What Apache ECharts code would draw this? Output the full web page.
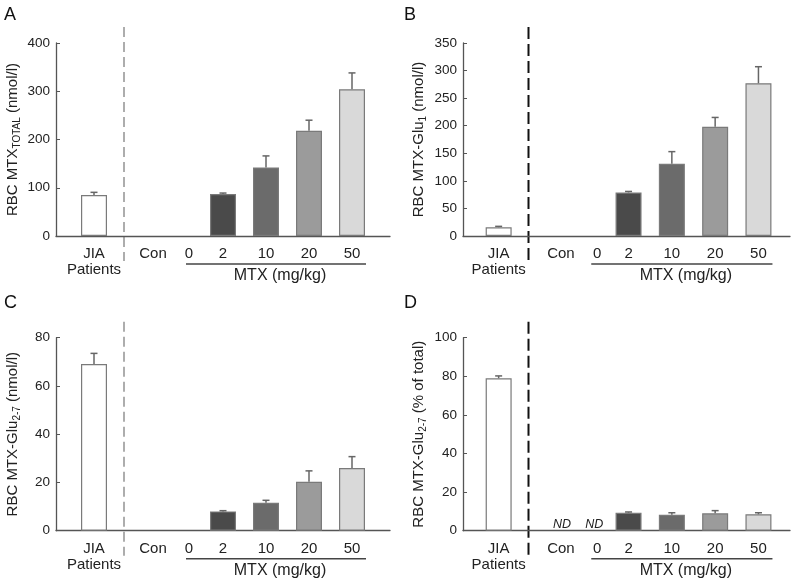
<!DOCTYPE html>
<html><head><meta charset="utf-8">
<script src="https://cdn.jsdelivr.net/npm/echarts@6/dist/echarts.min.js"></script>
<style>html,body{margin:0;padding:0;background:#fff}#c{width:800px;height:584px}</style>
</head><body><div id="c"></div>
<script>
// ---------- data ----------
const categories = ['JIA\nPatients', 'Con', '0', '2', '10', '20', '50'];
const barColors = ['#ffffff', '#ffffff', '#ffffff', '#4a4a4a', '#6b6b6b', '#9b9b9b', '#d9d9d9'];

const valuesA = [85, null, null, 87, 142, 218, 304];
const errorsA = [5.5, null, null, 2, 24, 22, 34];

const valuesB = [16, null, null, 79, 131, 198, 277];
const errorsB = [1.5, null, null, 1.8, 22, 17, 30];

const valuesC = [69.1, null, null, 8.0, 11.6, 20.3, 26.0];
const errorsC = [4.4, null, null, 0.3, 1.0, 4.5, 4.7];

const valuesD = [79, null, null, 9.3, 8.3, 9.0, 8.5];
const errorsD = [1.2, null, null, 0.4, 1.0, 1.4, 0.8];
const notDetectedD = ['Con', '0'];

const yTicksA = {max: 400, interval: 100};
const yTicksB = {max: 350, interval: 50};
const yTicksC = {max: 80, interval: 20};
const yTicksD = {max: 100, interval: 20};

// ---------- layout ----------
const FONT = 'Liberation Sans, Arial, sans-serif';
const panels = [
  {letter: 'A', vals: valuesA, errs: errorsA, ticks: yTicksA, axisLeft: 56, axisRight: 390, barLeft: 72.5, step: 43, top: 43, h: 193,
   name: '{a|RBC MTX}{s|TOTAL}{a| (nmol/l)}', shifts: {Con: 16, '0': 9}, dash: {c: '#777', w: 1.2, d: [10, 5]}, lx: 4, ly: 6, nameGap: 34, nd: []},
  {letter: 'B', vals: valuesB, errs: errorsB, ticks: yTicksB, axisLeft: 463, axisRight: 790, barLeft: 477, step: 43.3, top: 43, h: 193,
   name: '{a|RBC MTX-Glu}{s|1}{a| (nmol/l)}', shifts: {Con: 19, '0': 12}, dash: {c: '#111', w: 2, d: [12, 5]}, lx: 404, ly: 6, nameGap: 35, nd: []},
  {letter: 'C', vals: valuesC, errs: errorsC, ticks: yTicksC, axisLeft: 56, axisRight: 390, barLeft: 72.5, step: 43, top: 337.7, h: 193,
   name: '{a|RBC MTX-Glu}{s|2-7}{a| (nmol/l)}', shifts: {Con: 16, '0': 9}, dash: {c: '#777', w: 1.2, d: [10, 5]}, lx: 4, ly: 294, nameGap: 34, nd: []},
  {letter: 'D', vals: valuesD, errs: errorsD, ticks: yTicksD, axisLeft: 463, axisRight: 790, barLeft: 477, step: 43.3, top: 337.7, h: 193,
   name: '{a|RBC MTX-Glu}{s|2-7}{a| (% of total)}', shifts: {Con: 19, '0': 12}, dash: {c: '#111', w: 2, d: [12, 5]}, lx: 404, ly: 294, nameGap: 35, nd: notDetectedD}
];

const grid = [], xAxis = [], yAxis = [], series = [], graphic = [];

panels.forEach((p, i) => {
  const gMain = 2 * i, gBar = 2 * i + 1;
  const barWidthTotal = p.step * categories.length;
  grid.push({left: p.axisLeft, width: p.axisRight - p.axisLeft, top: p.top, height: p.h});
  grid.push({left: p.barLeft, width: barWidthTotal, top: p.top, height: p.h});

  xAxis.push({type: 'value', gridIndex: gMain, min: 0, max: 1, splitLine: {show: false},
    axisLabel: {show: false}, axisTick: {show: false},
    axisLine: {show: true, lineStyle: {color: '#555', width: 1.3}}});
  xAxis.push({type: 'category', gridIndex: gBar, data: categories,
    axisLine: {show: false}, axisTick: {show: false},
    axisLabel: {interval: 0, margin: 10, color: '#222', fontSize: 15, fontFamily: FONT, lineHeight: 16,
      formatter: v => p.shifts[v] ? '{s' + (v === 'Con' ? 'c' : 'z') + '|' + v + '}' : v,
      rich: {
        sc: {fontSize: 15, fontFamily: FONT, color: '#222', padding: [0, 0, 0, 2 * p.shifts.Con]},
        sz: {fontSize: 15, fontFamily: FONT, color: '#222', padding: [0, 0, 0, 2 * p.shifts['0']]}
      }}});

  yAxis.push({type: 'value', gridIndex: gMain, min: 0, max: p.ticks.max, interval: p.ticks.interval,
    splitLine: {show: false},
    axisLine: {show: true, lineStyle: {color: '#555', width: 1.3}},
    axisTick: {show: true, inside: true, length: 4, lineStyle: {color: '#555'}},
    axisLabel: {color: '#222', fontSize: 13.5, fontFamily: FONT, margin: 6},
    name: p.name, nameLocation: 'middle', nameGap: p.nameGap, nameRotate: 90,
    nameTextStyle: {color: '#222', fontFamily: FONT,
      rich: {
        a: {fontSize: 15, fontFamily: FONT, color: '#222', lineHeight: 18},
        s: {fontSize: 10, fontFamily: FONT, color: '#222', lineHeight: 10, verticalAlign: 'bottom'}
      }}});
  yAxis.push({type: 'value', gridIndex: gBar, min: 0, max: p.ticks.max, show: false});

  series.push({type: 'bar', xAxisIndex: gBar, yAxisIndex: gBar, barWidth: 26, z: 3,
    data: p.vals.map((v, k) => v == null ? '-' : {value: v, itemStyle: {color: barColors[k]}}),
    itemStyle: {borderColor: '#7a7a7a', borderWidth: 1.2}});

  series.push({type: 'custom', xAxisIndex: gBar, yAxisIndex: gBar, z: 4,
    data: p.vals.map((v, k) => v == null ? null : [k, v, p.errs[k]]).filter(d => d),
    encode: {x: 0, y: 1},
    renderItem: (params, api) => {
      const b = api.coord([api.value(0), api.value(1)]);
      const t = api.coord([api.value(0), api.value(1) + api.value(2)]);
      const st = {stroke: '#666', lineWidth: 1.5};
      return {type: 'group', children: [
        {type: 'line', shape: {x1: b[0], y1: b[1], x2: b[0], y2: t[1]}, style: st},
        {type: 'line', shape: {x1: b[0] - 3.5, y1: t[1], x2: b[0] + 3.5, y2: t[1]}, style: st}
      ]};
    }});

  if (p.nd.length) {
    series.push({type: 'custom', xAxisIndex: gBar, yAxisIndex: gBar, z: 4,
      data: p.nd.map(c => [categories.indexOf(c), 0]),
      encode: {x: 0, y: 1},
      renderItem: (params, api) => {
        const c = api.coord([api.value(0), api.value(1)]);
        const cat = categories[api.value(0)];
        const dx = cat === 'Con' ? 20 : 9;
        return {type: 'text', style: {text: 'ND', x: c[0] + dx, y: c[1] - 6, align: 'center', verticalAlign: 'middle',
          font: 'italic 12.5px ' + FONT, fill: '#222'}};
      }});
  }

  // decorations
  const gridBottom = p.top + p.h;
  const sepX = p.barLeft + 51.5;
  graphic.push({type: 'line', shape: {x1: sepX, y1: p.top - 16, x2: sepX, y2: gridBottom + 25},
    style: {stroke: p.dash.c, lineWidth: p.dash.w, lineDash: p.dash.d}});
  const c0 = p.barLeft + p.step * 2.5, c50 = p.barLeft + p.step * 6.5;
  const ulY = gridBottom + 28;
  graphic.push({type: 'line', shape: {x1: c0 + 6, y1: ulY, x2: c50 + 14, y2: ulY},
    style: {stroke: '#444', lineWidth: 1.5}});
  graphic.push({type: 'text', x: (c0 + 6 + c50 + 14) / 2 + 4, y: ulY + 12,
    style: {text: 'MTX (mg/kg)', font: '16px ' + FONT, fill: '#222', align: 'center', verticalAlign: 'middle'}});
  graphic.push({type: 'text', x: p.lx, y: p.ly,
    style: {text: p.letter, font: '18px ' + FONT, fill: '#111', align: 'left', verticalAlign: 'top'}});
});

const chart = echarts.init(document.getElementById('c'), null, {renderer: 'canvas'});
chart.setOption({
  animation: false,
  backgroundColor: '#ffffff',
  textStyle: {fontFamily: FONT},
  grid, xAxis, yAxis, series, graphic
});
</script>
</body></html>
